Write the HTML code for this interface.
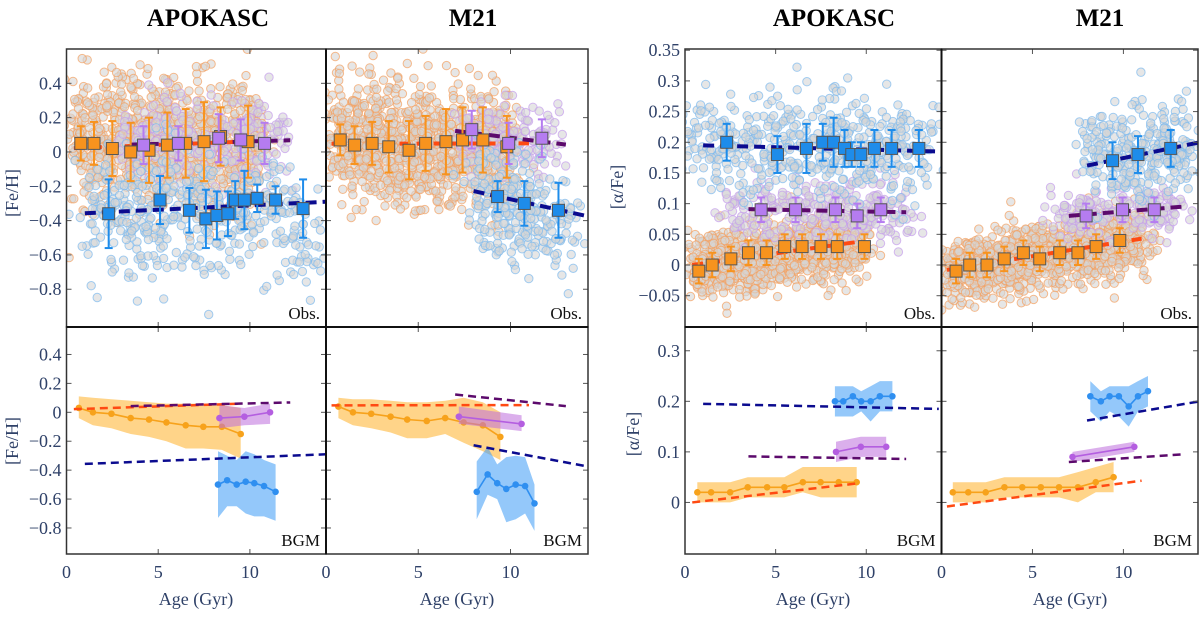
<!DOCTYPE html>
<html><head><meta charset="utf-8"><style>
html,body{margin:0;padding:0;background:#fff;}
svg, svg text{font-family:"Liberation Serif","DejaVu Serif",serif;}
</style></head><body>
<svg id="fig" width="1200" height="613" viewBox="0 0 1200 613" font-family="Liberation Serif, serif" xmlns="http://www.w3.org/2000/svg"></svg>
<script>
// ===== Data arrays =====
const p1ThinAge=[0.78,1.5,2.5,3.5,4.5,5.5,6.5,7.5,8.4,9.9];
const p1ThinVal=[0.05,0.05,0.02,0.0,0.01,0.04,0.05,0.06,0.09,0.06];
const p1ThinErr=[0.1,0.125,0.16,0.17,0.19,0.19,0.2,0.23,0.17,0.21];
const p1MidAge=[4.2,6.1,8.3,9.5,10.8];
const p1MidVal=[0.04,0.05,0.08,0.07,0.05];
const p1MidErr=[0.11,0.1,0.14,0.12,0.12];
const p1ThickAge=[2.3,5.1,6.7,7.6,8.2,8.8,9.2,9.7,10.4,11.4,12.9];
const p1ThickVal=[-0.36,-0.28,-0.34,-0.39,-0.37,-0.36,-0.28,-0.28,-0.27,-0.28,-0.33];
const p1ThickErr=[0.2,0.14,0.13,0.17,0.14,0.13,0.11,0.17,0.08,0.08,0.17];
const p2ThinAge=[0.77,1.55,2.5,3.4,4.5,5.4,6.5,7.4,8.5,9.8];
const p2ThinVal=[0.07,0.04,0.05,0.03,0.01,0.05,0.06,0.07,0.07,0.03];
const p2ThinErr=[0.09,0.11,0.125,0.15,0.17,0.16,0.19,0.19,0.19,0.18];
const p2MidAge=[7.9,9.9,11.7];
const p2MidVal=[0.13,0.05,0.08];
const p2MidErr=[0.11,0.12,0.11];
const p2ThickAge=[9.3,10.75,12.6];
const p2ThickVal=[-0.26,-0.3,-0.34];
const p2ThickErr=[0.09,0.13,0.16];
const p3ThinAge=[0.67,1.44,2.45,3.5,4.5,5.45,6.5,7.46,8.47,9.5];
const p3ThinVal=[0.03,0.0,-0.01,-0.04,-0.05,-0.07,-0.09,-0.1,-0.1,-0.15];
const p3ThinHi=[0.11,0.1,0.09,0.08,0.07,0.06,0.06,0.06,0.05,0.03];
const p3ThinLo=[-0.04,-0.09,-0.11,-0.15,-0.17,-0.2,-0.25,-0.25,-0.26,-0.32];
const p3MidAge=[8.34,9.7,11.1];
const p3MidVal=[-0.04,-0.03,0.0];
const p3MidHi=[0.05,0.03,0.06];
const p3MidLo=[-0.11,-0.09,-0.08];
const p3ThickAge=[8.26,8.76,9.28,9.77,10.24,10.77,11.4];
const p3ThickVal=[-0.5,-0.47,-0.5,-0.48,-0.49,-0.51,-0.55];
const p3ThickHi=[-0.27,-0.3,-0.33,-0.27,-0.29,-0.33,-0.36];
const p3ThickLo=[-0.73,-0.65,-0.65,-0.7,-0.72,-0.72,-0.75];
const p4ThinAge=[0.67,1.46,2.45,3.5,4.4,5.46,6.46,7.46,8.5,9.45];
const p4ThinVal=[0.04,0.0,-0.01,-0.03,-0.05,-0.06,-0.04,-0.07,-0.09,-0.17];
const p4ThinHi=[0.1,0.09,0.09,0.08,0.07,0.07,0.08,0.1,0.07,0.0];
const p4ThinLo=[-0.04,-0.09,-0.11,-0.14,-0.18,-0.18,-0.15,-0.21,-0.27,-0.33];
const p4MidAge=[7.2,10.6];
const p4MidVal=[-0.03,-0.08];
const p4MidHi=[0.04,-0.02];
const p4MidLo=[-0.08,-0.13];
const p4ThickAge=[8.17,8.76,9.28,9.77,10.28,10.79,11.3];
const p4ThickVal=[-0.55,-0.43,-0.49,-0.53,-0.5,-0.51,-0.63];
const p4ThickHi=[-0.34,-0.24,-0.36,-0.31,-0.3,-0.31,-0.5];
const p4ThickLo=[-0.74,-0.57,-0.6,-0.76,-0.74,-0.7,-0.82];
const p5ThinAge=[0.76,1.5,2.53,3.5,4.5,5.5,6.46,7.5,8.4,9.9];
const p5ThinVal=[-0.01,0.0,0.01,0.02,0.02,0.03,0.03,0.03,0.03,0.03];
const p5ThinErr=[0.02,0.02,0.02,0.02,0.02,0.02,0.02,0.02,0.02,0.02];
const p5MidAge=[4.2,6.1,8.3,9.5,10.8];
const p5MidVal=[0.09,0.09,0.09,0.08,0.09];
const p5MidErr=[0.02,0.02,0.02,0.02,0.02];
const p5ThickAge=[2.3,5.1,6.7,7.6,8.2,8.8,9.2,9.7,10.45,11.4,12.9];
const p5ThickVal=[0.2,0.18,0.19,0.2,0.2,0.19,0.18,0.18,0.19,0.19,0.19];
const p5ThickErr=[0.03,0.03,0.04,0.03,0.04,0.03,0.02,0.02,0.03,0.03,0.03];
const p6ThinAge=[0.8,1.55,2.5,3.45,4.5,5.4,6.5,7.5,8.5,9.8];
const p6ThinVal=[-0.01,0.0,0.0,0.01,0.02,0.01,0.02,0.02,0.03,0.04];
const p6ThinErr=[0.02,0.02,0.02,0.02,0.02,0.02,0.02,0.02,0.02,0.02];
const p6MidAge=[7.95,9.95,11.7];
const p6MidVal=[0.08,0.09,0.09];
const p6MidErr=[0.02,0.02,0.02];
const p6ThickAge=[9.4,10.8,12.6];
const p6ThickVal=[0.17,0.18,0.19];
const p6ThickErr=[0.03,0.03,0.03];
const p7ThinAge=[0.68,1.44,2.49,3.46,4.53,5.48,6.5,7.48,8.48,9.47];
const p7ThinVal=[0.02,0.02,0.02,0.03,0.03,0.03,0.04,0.04,0.04,0.04];
const p7ThinHi=[0.04,0.04,0.04,0.05,0.05,0.05,0.07,0.07,0.07,0.07];
const p7ThinLo=[0.0,0.0,0.0,0.01,0.01,0.01,0.02,0.01,0.01,0.01];
const p7MidAge=[8.33,9.7,11.1];
const p7MidVal=[0.1,0.11,0.11];
const p7MidHi=[0.12,0.13,0.13];
const p7MidLo=[0.08,0.09,0.09];
const p7ThickAge=[8.27,8.73,9.26,9.72,10.24,10.75,11.44];
const p7ThickVal=[0.2,0.2,0.21,0.2,0.2,0.21,0.21];
const p7ThickHi=[0.23,0.23,0.23,0.22,0.23,0.24,0.24];
const p7ThickLo=[0.17,0.17,0.17,0.18,0.16,0.18,0.18];
const p8ThinAge=[0.62,1.47,2.43,3.46,4.44,5.46,6.46,7.5,8.48,9.46];
const p8ThinVal=[0.02,0.02,0.02,0.03,0.03,0.03,0.03,0.03,0.04,0.05];
const p8ThinHi=[0.04,0.04,0.04,0.05,0.05,0.05,0.05,0.06,0.07,0.08];
const p8ThinLo=[0.0,0.0,0.0,0.01,0.01,0.01,0.01,0.0,0.02,0.02];
const p8MidAge=[7.2,10.6];
const p8MidVal=[0.09,0.11];
const p8MidHi=[0.1,0.12];
const p8MidLo=[0.08,0.1];
const p8ThickAge=[8.18,8.76,9.24,9.75,10.29,10.8,11.35];
const p8ThickVal=[0.21,0.2,0.21,0.21,0.19,0.21,0.22];
const p8ThickHi=[0.24,0.22,0.23,0.23,0.23,0.24,0.25];
const p8ThickLo=[0.18,0.16,0.18,0.17,0.15,0.18,0.19];
const fitApoFeThin=[0.4,0.022,9.6,0.06];
const fitApoFeMid=[3.5,0.043,12.2,0.068];
const fitApoFeThick=[1.0,-0.357,14.2,-0.29];
const fitM21FeThin=[0.3,0.048,11.0,0.05];
const fitM21FeMid=[7.0,0.123,13.0,0.043];
const fitM21FeThick=[8.0,-0.228,14.2,-0.375];
const fitApoAlThin=[0.4,0.0,9.6,0.038];
const fitApoAlMid=[3.5,0.091,12.2,0.086];
const fitApoAlThick=[1.0,0.195,14.0,0.185];
const fitM21AlThin=[0.3,-0.008,11.0,0.043];
const fitM21AlMid=[7.0,0.08,13.2,0.095];
const fitM21AlThick=[8.0,0.162,14.2,0.2];
// Star clouds: [ageMin, ageMax, meanAtMin, meanAtMax, sigma, count]
const cloudApoFeThin=[0.4,10.5,0.1,0.02,0.19,1000];
const cloudApoFeMid=[3.0,12.0,0.05,0.05,0.13,220];
const cloudApoFeThick=[1.0,13.5,-0.34,-0.4,0.19,420];
const cloudM21FeThin=[0.4,10.0,0.08,0.0,0.17,1050];
const cloudM21FeMid=[7.0,12.5,0.11,0.05,0.1,130];
const cloudM21FeThick=[8.0,13.5,-0.26,-0.42,0.15,260];
const cloudApoAlThin=[0.4,9.8,-0.004,0.035,0.026,1050];
const cloudApoAlMid=[2.5,12.5,0.09,0.088,0.026,260];
const cloudApoAlThick=[0.5,13.5,0.2,0.19,0.04,480];
const cloudM21AlThin=[0.4,11.0,-0.012,0.042,0.026,1050];
const cloudM21AlMid=[6.5,13.0,0.082,0.094,0.02,170];
const cloudM21AlThick=[8.0,13.8,0.18,0.19,0.034,300];

// ===== drawing =====
const NS="http://www.w3.org/2000/svg";
const FONT="Liberation Serif, DejaVu Serif, serif";
const svg=document.getElementById('fig');
function el(tag,attrs,parent){const e=document.createElementNS(NS,tag);for(const k in attrs)e.setAttribute(k,attrs[k]);(parent||svg).appendChild(e);return e;}
let seed=12345;
function rnd(){seed=(seed*1103515245+12345)&0x7fffffff;return seed/0x7fffffff;}
function gauss(){let u=rnd()||1e-6,v=rnd();return Math.sqrt(-2*Math.log(u))*Math.cos(2*Math.PI*v);}

const C={thin:'#f7931e',thinEdge:'#f3a060',thinFit:'#ff4a12',mid:'#b57cf0',midEdge:'#c59cec',midFit:'#5c0a6c',thick:'#1e8cea',thickEdge:'#7cb9ee',thickFit:'#0b0b8f',
  thinBand:'rgba(255,176,40,0.55)',midBand:'rgba(190,110,220,0.55)',thickBand:'rgba(60,155,245,0.55)',bgmThin:'#f7a21b',bgmMid:'#b45ee0',bgmThick:'#2f8ff0'};

function makePanel(name,x0,x1,y0,y1,xmax,ymin,ymax){
  const g=el('g',{});
  
  
  const clipId='clip-'+name;
  const cp=el('clipPath',{id:clipId},g);el('rect',{x:x0,y:y0,width:x1-x0,height:y1-y0},cp);
  const inner=el('g',{'clip-path':'url(#'+clipId+')'},g);
  return {g,inner,sx:a=>x0+(a/xmax)*(x1-x0),sy:v=>y1-(v-ymin)/(ymax-ymin)*(y1-y0),x0,x1,y0,y1};
}
function cloud(P,c,fill,stroke,name){
  const g=el('g',{},P.inner);
  
  
  for(let i=0;i<c[5];i++){
    const a0=c[0]+rnd()*(c[1]-c[0]);const m=c[2]+(c[3]-c[2])*(a0-c[0])/(c[1]-c[0]);
    const a=a0+gauss()*0.5;
    const v=m+gauss()*c[4];
    el('circle',{cx:P.sx(a).toFixed(1),cy:P.sy(v).toFixed(1),r:4.2,fill:'#d6d6d6','fill-opacity':0.6,stroke:stroke,'stroke-opacity':0.7,'stroke-width':1},g);
  }
}
function fit(P,f,color,w,dash,name){
  const l=el('line',{x1:P.sx(f[0]),y1:P.sy(f[1]),x2:P.sx(f[2]),y2:P.sy(f[3]),stroke:color,'stroke-width':w,'stroke-dasharray':dash},P.inner);
  
  
}
function squares(P,ages,vals,errs,color,name){
  const g=el('g',{},P.inner);
  
  
  ages.forEach((a,i)=>{
    const x=P.sx(a),yt=P.sy(vals[i]+errs[i]),yb=P.sy(vals[i]-errs[i]);
    el('line',{x1:x,y1:yt,x2:x,y2:yb,stroke:color,'stroke-width':2},g);
    el('line',{x1:x-4,y1:yt,x2:x+4,y2:yt,stroke:color,'stroke-width':2},g);
    el('line',{x1:x-4,y1:yb,x2:x+4,y2:yb,stroke:color,'stroke-width':2},g);
  });
  ages.forEach((a,i)=>{
    const s=el('rect',{x:P.sx(a)-6,y:P.sy(vals[i])-6,width:12,height:12,fill:color,stroke:'#555','stroke-width':1},g);
    
    
  });
}
function band(P,ages,vals,hi,lo,bandColor,lineColor,name){
  const g=el('g',{},P.inner);
  
  
  let d='';ages.forEach((a,i)=>{d+=(i?'L':'M')+P.sx(a).toFixed(1)+','+P.sy(hi[i]).toFixed(1);});
  for(let i=ages.length-1;i>=0;i--)d+='L'+P.sx(ages[i]).toFixed(1)+','+P.sy(lo[i]).toFixed(1);
  el('path',{d:d+'Z',fill:bandColor,stroke:'none'},g);
  el('polyline',{points:ages.map((a,i)=>P.sx(a).toFixed(1)+','+P.sy(vals[i]).toFixed(1)).join(' '),fill:'none',stroke:lineColor,'stroke-width':1.6},g);
  ages.forEach((a,i)=>el('circle',{cx:P.sx(a),cy:P.sy(vals[i]),r:3.3,fill:lineColor},g));
}
function axes(P,yticks,ylabels,showY,xlabelsShow,tag){
  const g=P.g;
  [0,5,10].forEach(t=>{const x=P.sx(t);
    el('line',{x1:x,y1:P.y0,x2:x,y2:P.y0+5,stroke:'#555','stroke-width':1},g);
    el('line',{x1:x,y1:P.y1,x2:x,y2:P.y1-5,stroke:'#555','stroke-width':1},g);
    if(xlabelsShow){const t2=el('text',{x:x,y:P.y1+24,'text-anchor':'middle','font-size':18,'font-family':FONT,fill:'#2f4168'},g);t2.textContent=String(t);
      }
  });
  yticks.forEach((v,i)=>{const y=P.sy(v);
    el('line',{x1:P.x0,y1:y,x2:P.x0+5,y2:y,stroke:'#555','stroke-width':1},g);
    el('line',{x1:P.x1,y1:y,x2:P.x1-5,y2:y,stroke:'#555','stroke-width':1},g);
    if(showY){const t=el('text',{x:P.x0-5,y:y+6,'text-anchor':'end','font-size':18,'font-family':FONT,fill:'#2f4168'},g);t.textContent=ylabels[i];
      }
  });
  el('rect',{x:P.x0,y:P.y0,width:P.x1-P.x0,height:P.y1-P.y0,fill:'none',stroke:'#333','stroke-width':1.5},g);
  const t=el('text',{x:P.x1-6,y:P.y1-8,'text-anchor':'end','font-size':17,'font-family':FONT,fill:'#111'},g);t.textContent=tag;
  
}
function text(x,y,s,size,weight,color,name,rot){
  const t=el('text',{x:x,y:y,'text-anchor':'middle','font-size':size,'font-weight':weight,'font-family':FONT,fill:color});
  if(rot)t.setAttribute('transform','rotate(-90 '+x+' '+y+')');
  t.textContent=s;
}

const LX=[66.5,326,588],RX=[685,941.5,1198],Y=[49,327,554];
const feT=[-0.8,-0.6,-0.4,-0.2,0,0.2,0.4],feL=['\u22120.8','\u22120.6','\u22120.4','\u22120.2','0','0.2','0.4'];
const alT=[-0.05,0,0.05,0.1,0.15,0.2,0.25,0.3,0.35],alL=['\u22120.05','0','0.05','0.1','0.15','0.2','0.25','0.3','0.35'];
const alT2=[0,0.1,0.2,0.3],alL2=['0','0.1','0.2','0.3'];

function obsPanel(name,P,cT,cM,cK,fT,fM,fK,tA,tV,tE,mA,mV,mE,kA,kV,kE){
  cloud(P,cT,C.thin,C.thinEdge,name+'-thin-stars');
  cloud(P,cM,C.mid,C.midEdge,name+'-mid-stars');
  cloud(P,cK,C.thick,C.thickEdge,name+'-thick-stars');
  fit(P,fT,C.thinFit,4,'11 6',name+'-thin-fit');
  fit(P,fM,C.midFit,4,'11 6',name+'-mid-fit');
  fit(P,fK,C.thickFit,4,'11 6',name+'-thick-fit');
  squares(P,tA,tV,tE,C.thin,name+'-thin-bins');
  squares(P,mA,mV,mE,C.mid,name+'-mid-bins');
  squares(P,kA,kV,kE,C.thick,name+'-thick-bins');
}
function bgmPanel(name,P,fT,fM,fK,T,M,K){
  band(P,T[0],T[1],T[2],T[3],C.thinBand,C.bgmThin,name+'-thin-model');
  band(P,M[0],M[1],M[2],M[3],C.midBand,C.bgmMid,name+'-mid-model');
  band(P,K[0],K[1],K[2],K[3],C.thickBand,C.bgmThick,name+'-thick-model');
  fit(P,fT,C.thinFit,2.5,'8 5',name+'-thin-fit');
  fit(P,fM,C.midFit,2.5,'8 5',name+'-mid-fit');
  fit(P,fK,C.thickFit,2.5,'8 5',name+'-thick-fit');
}

const P1=makePanel('panel-apokasc-feh-obs',LX[0],LX[1],Y[0],Y[1],14.15,-1.02,0.6);
obsPanel('apokasc-feh-obs',P1,cloudApoFeThin,cloudApoFeMid,cloudApoFeThick,fitApoFeThin,fitApoFeMid,fitApoFeThick,p1ThinAge,p1ThinVal,p1ThinErr,p1MidAge,p1MidVal,p1MidErr,p1ThickAge,p1ThickVal,p1ThickErr);
axes(P1,feT,feL,true,false,'Obs.');
const P2=makePanel('panel-m21-feh-obs',LX[1],LX[2],Y[0],Y[1],14.2,-1.02,0.6);
obsPanel('m21-feh-obs',P2,cloudM21FeThin,cloudM21FeMid,cloudM21FeThick,fitM21FeThin,fitM21FeMid,fitM21FeThick,p2ThinAge,p2ThinVal,p2ThinErr,p2MidAge,p2MidVal,p2MidErr,p2ThickAge,p2ThickVal,p2ThickErr);
axes(P2,feT,feL,false,false,'Obs.');
const P3=makePanel('panel-apokasc-feh-bgm',LX[0],LX[1],Y[1],Y[2],14.15,-0.98,0.59);
bgmPanel('apokasc-feh-bgm',P3,fitApoFeThin,fitApoFeMid,fitApoFeThick,[p3ThinAge,p3ThinVal,p3ThinHi,p3ThinLo],[p3MidAge,p3MidVal,p3MidHi,p3MidLo],[p3ThickAge,p3ThickVal,p3ThickHi,p3ThickLo]);
axes(P3,feT,feL,true,true,'BGM');
const P4=makePanel('panel-m21-feh-bgm',LX[1],LX[2],Y[1],Y[2],14.2,-0.98,0.59);
bgmPanel('m21-feh-bgm',P4,fitM21FeThin,fitM21FeMid,fitM21FeThick,[p4ThinAge,p4ThinVal,p4ThinHi,p4ThinLo],[p4MidAge,p4MidVal,p4MidHi,p4MidLo],[p4ThickAge,p4ThickVal,p4ThickHi,p4ThickLo]);
axes(P4,feT,feL,false,true,'BGM');

const P5=makePanel('panel-apokasc-alpha-obs',RX[0],RX[1],Y[0],Y[1],14.15,-0.101,0.352);
obsPanel('apokasc-alpha-obs',P5,cloudApoAlThin,cloudApoAlMid,cloudApoAlThick,fitApoAlThin,fitApoAlMid,fitApoAlThick,p5ThinAge,p5ThinVal,p5ThinErr,p5MidAge,p5MidVal,p5MidErr,p5ThickAge,p5ThickVal,p5ThickErr);
axes(P5,alT,alL,true,false,'Obs.');
const P6=makePanel('panel-m21-alpha-obs',RX[1],RX[2],Y[0],Y[1],14.1,-0.101,0.352);
obsPanel('m21-alpha-obs',P6,cloudM21AlThin,cloudM21AlMid,cloudM21AlThick,fitM21AlThin,fitM21AlMid,fitM21AlThick,p6ThinAge,p6ThinVal,p6ThinErr,p6MidAge,p6MidVal,p6MidErr,p6ThickAge,p6ThickVal,p6ThickErr);
axes(P6,alT,alL,false,false,'Obs.');
const P7=makePanel('panel-apokasc-alpha-bgm',RX[0],RX[1],Y[1],Y[2],14.15,-0.102,0.347);
bgmPanel('apokasc-alpha-bgm',P7,fitApoAlThin,fitApoAlMid,fitApoAlThick,[p7ThinAge,p7ThinVal,p7ThinHi,p7ThinLo],[p7MidAge,p7MidVal,p7MidHi,p7MidLo],[p7ThickAge,p7ThickVal,p7ThickHi,p7ThickLo]);
axes(P7,alT2,alL2,true,true,'BGM');
const P8=makePanel('panel-m21-alpha-bgm',RX[1],RX[2],Y[1],Y[2],14.1,-0.102,0.347);
bgmPanel('m21-alpha-bgm',P8,fitM21AlThin,fitM21AlMid,fitM21AlThick,[p8ThinAge,p8ThinVal,p8ThinHi,p8ThinLo],[p8MidAge,p8MidVal,p8MidHi,p8MidLo],[p8ThickAge,p8ThickVal,p8ThickHi,p8ThickLo]);
axes(P8,alT2,alL2,false,true,'BGM');

[[LX[1],Y[0],LX[1],Y[2]],[LX[0],Y[1],LX[2],Y[1]],[RX[1],Y[0],RX[1],Y[2]],[RX[0],Y[1],RX[2],Y[1]]].forEach(s=>{
  const l=el('line',{x1:s[0],y1:s[1],x2:s[2],y2:s[3],stroke:'#111','stroke-width':2});
  
  
});

text(208,26,'APOKASC',25,'bold','#000','title-apokasc-feh');
text(473,26,'M21',25,'bold','#000','title-m21-feh');
text(834,26,'APOKASC',25,'bold','#000','title-apokasc-alpha');
text(1100,26,'M21',25,'bold','#000','title-m21-alpha');
text(196,605,'Age (Gyr)',18,'normal','#2f4168','x-axis-title-feh');
text(457,605,'Age (Gyr)',18,'normal','#2f4168','x-axis-title-feh-m21');
text(813,605,'Age (Gyr)',18,'normal','#2f4168','x-axis-title-alpha');
text(1070,605,'Age (Gyr)',18,'normal','#2f4168','x-axis-title-alpha-m21');
text(18,193,'[Fe/H]',18,'normal','#2f4168','y-axis-title-feh-obs',true);
text(18,441,'[Fe/H]',18,'normal','#2f4168','y-axis-title-feh-bgm',true);
text(623,187,'[\u03b1/Fe]',18,'normal','#2f4168','y-axis-title-alpha-obs',true);
text(639,434,'[\u03b1/Fe]',18,'normal','#2f4168','y-axis-title-alpha-bgm',true);
</script>
</body></html>
